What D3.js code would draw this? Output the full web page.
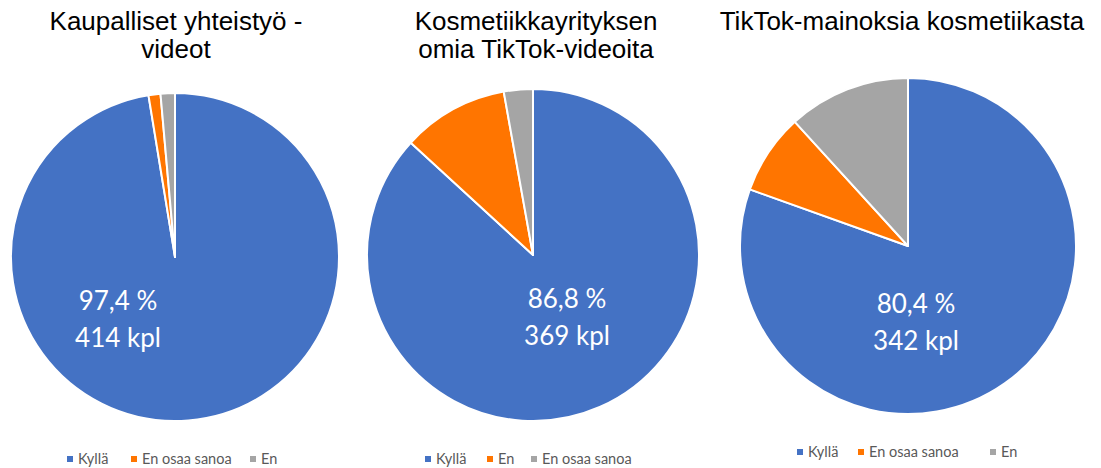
<!DOCTYPE html>
<html>
<head>
<meta charset="utf-8">
<script src="https://cdn.jsdelivr.net/npm/d3@7"></script>
<style>
  body { margin: 0; background: #fff; }
  svg { display: block; }
</style>
</head>
<body>
<div class="canvas"></div>
<script>
// chart data
const titles = [
  ['Kaupalliset yhteistyö -', 'videot'],
  ['Kosmetiikkayrityksen', 'omia TikTok-videoita'],
  ['TikTok-mainoksia kosmetiikasta']
];
const categories1 = ['Kyllä', 'En osaa sanoa', 'En'];
const values1 = [414, 5, 6];
const categories2 = ['Kyllä', 'En', 'En osaa sanoa'];
const values2 = [369, 44, 12];
const categories3 = ['Kyllä', 'En osaa sanoa', 'En'];
const values3 = [342, 33, 50];
const pctLabels = ['97,4 %', '86,8 %', '80,4 %'];
const countLabels = ['414 kpl', '369 kpl', '342 kpl'];

const colour = d3.scaleOrdinal()
  .domain(['Kyllä', 'En osaa sanoa', 'En'])
  .range(['#4472c4', '#ff7500', '#a5a5a5']);
const colour2 = d3.scaleOrdinal()
  .domain(['Kyllä', 'En', 'En osaa sanoa'])
  .range(['#4472c4', '#ff7500', '#a5a5a5']);

const dims = { width: 1101, height: 468 };

// layout for each of the three pies
const layout = [
  { cx: 175, cy: 257, r: 164, titleX: 176, labelDx: -57, labelDy: 53, legendX: 67, legendY: 464, gaps: [64, 119, 0] },
  { cx: 533, cy: 255, r: 166, titleX: 536, labelDx: 34, labelDy: 53, legendX: 425, legendY: 464, gaps: [62, 44, 0] },
  { cx: 908, cy: 246, r: 168, titleX: 902, labelDx: 8, labelDy: 67, legendX: 797, legendY: 457, gaps: [61, 132, 0] }
];

const charts = [
  { cats: categories1, vals: values1, col: colour },
  { cats: categories2, vals: values2, col: colour2 },
  { cats: categories3, vals: values3, col: colour }
];

const svg = d3.select('.canvas')
  .append('svg')
  .attr('width', dims.width)
  .attr('height', dims.height);

const pie = d3.pie()
  .sort(null)
  .value(d => d.value);

charts.forEach((c, k) => {
  const L = layout[k];
  const data = c.cats.map((name, i) => ({ name, value: c.vals[i] }));

  const arcPath = d3.arc()
    .outerRadius(L.r)
    .innerRadius(0);

  // title
  const title = svg.append('text')
    .attr('x', L.titleX)
    .attr('y', 30)
    .attr('text-anchor', 'middle')
    .attr('font-family', 'Liberation Sans, Arial, sans-serif')
    .attr('font-size', 26)
    .attr('fill', '#000');
  titles[k].forEach((line, j) => {
    title.append('tspan')
      .attr('x', L.titleX)
      .attr('dy', j === 0 ? 0 : 28)
      .text(line);
  });

  const graph = svg.append('g')
    .attr('transform', `translate(${L.cx}, ${L.cy})`);

  graph.selectAll('path')
    .data(pie(data))
    .enter()
    .append('path')
      .attr('d', arcPath)
      .attr('fill', d => c.col(d.data.name))
      .attr('stroke', '#fff')
      .attr('stroke-width', 2)
      .attr('stroke-linejoin', 'round');

  // value label in the big slice
  const lbl = graph.append('text')
    .attr('x', L.labelDx)
    .attr('y', L.labelDy)
    .attr('text-anchor', 'middle')
    .attr('font-family', 'Lato, Open Sans, sans-serif')
    .attr('font-size', 26)
    .attr('fill', '#fff');
  lbl.append('tspan').attr('x', L.labelDx).attr('dy', 0).text(pctLabels[k]);
  lbl.append('tspan').attr('x', L.labelDx).attr('dy', 37).text(countLabels[k]);

  // legend
  const legendGroup = svg.append('g')
    .attr('transform', `translate(${L.legendX}, ${L.legendY})`);
  let x = 0;
  c.cats.forEach((name, i) => {
    legendGroup.append('rect')
      .attr('x', x)
      .attr('y', -8)
      .attr('width', 6)
      .attr('height', 6)
      .attr('fill', c.col(name));
    legendGroup.append('text')
      .attr('x', x + 11)
      .attr('y', 0)
      .attr('font-family', 'Lato, Open Sans, sans-serif')
      .attr('font-size', 14.5)
      .attr('fill', '#595959')
      .text(name);
    x += L.gaps[i];
  });
});
</script>
</body>
</html>
